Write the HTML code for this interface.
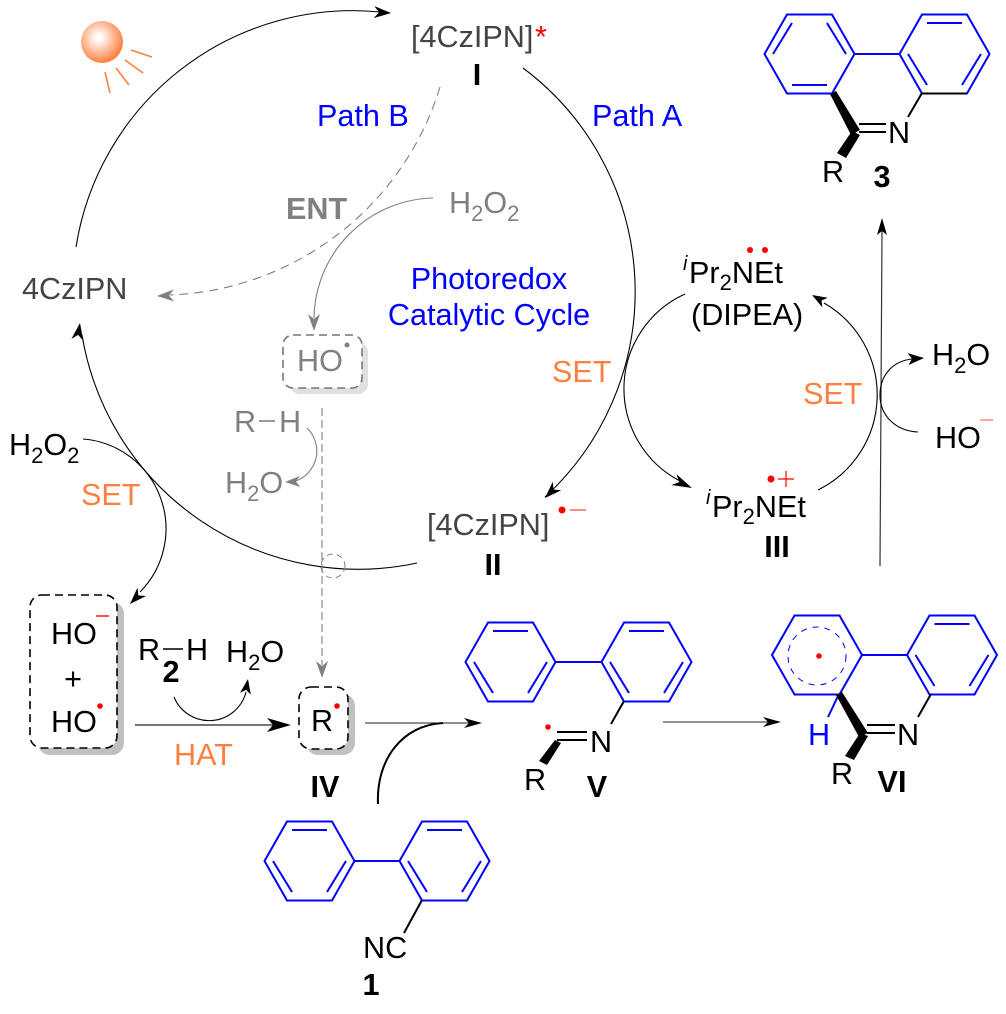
<!DOCTYPE html>
<html><head><meta charset="utf-8"><style>
html,body{margin:0;padding:0;background:#fff}
svg{display:block}
text{font-family:"Liberation Sans",sans-serif;font-size:30.6px}
.b{font-weight:bold}
.o{fill:#ff7f3f}.u{fill:#0000ff}.g{fill:#808080}.d{fill:#444}
.s{font-size:22px}
.ln{fill:none;stroke:#000;stroke-width:1.1}
.gl{fill:none;stroke:#808080;stroke-width:1.1}
.ring{fill:none;stroke:#0000ff;stroke-width:2}
.bk{fill:none;stroke:#000;stroke-width:2}
</style></head><body>
<svg width="1006" height="1014" viewBox="0 0 1006 1014" xmlns="http://www.w3.org/2000/svg">
<defs>
<radialGradient id="sun" cx="0.42" cy="0.4" r="0.6"><stop offset="0.1" stop-color="#fff"/><stop offset="1" stop-color="#ff7f3f"/></radialGradient>
</defs>
<rect width="1006" height="1014" fill="#fff"/>

<!-- sun -->
<circle cx="102" cy="42" r="21" fill="url(#sun)"/>
<path d="M131 50L152 57M125 60L143 73M116 68L129 85M105 72L110 93" stroke="#ff7f3f" stroke-width="1.6" fill="none"/>

<!-- main cycle -->
<path class="ln" d="M76 247A280 280 0 0 1 380 12"/>
<polygon points="0,0 -17,-6 -12,0 -17,6" transform="translate(391,13) rotate(3)"/>
<path class="ln" d="M523 68A279 279 0 0 1 545 497"/>
<polygon points="0,0 -17,-6 -12,0 -17,6" transform="translate(545,498) rotate(135)"/>
<path class="ln" d="M417 563A280 280 0 0 1 82 335"/>
<polygon points="0,0 -17,-6 -12,0 -17,6" transform="translate(80,323) rotate(-81)"/>

<!-- dashed ENT -->
<path class="gl" stroke-dasharray="9 6" d="M440 87A294 294 0 0 1 170 295"/>
<polygon points="0,0 -17,-6 -12,0 -17,6" fill="#808080" transform="translate(157,296) rotate(178)"/>
<path class="gl" d="M433 198A122 122 0 0 0 314 318"/>
<polygon points="0,0 -17,-6 -12,0 -17,6" fill="#808080" transform="translate(314,331) rotate(90)"/>

<!-- HO radical box -->
<rect x="290" y="342" width="78" height="52" rx="10" fill="#e0e0e0"/>
<rect x="283" y="335" width="79" height="53" rx="10" fill="#fff" stroke="#777" stroke-width="1.6" stroke-dasharray="8 5"/>
<text x="297" y="371" class="g">HO</text>
<circle cx="347" cy="345" r="2.5" fill="#808080"/>

<!-- R-H gray -->
<text x="234" y="432" class="g">R</text>
<path d="M259 421H275" stroke="#808080" stroke-width="1.6"/>
<text x="279" y="432" class="g">H</text>
<text x="225" y="493" class="g">H<tspan dy="8" class="s">2</tspan><tspan dy="-8">O</tspan></text>
<path class="gl" d="M307 428A32 32 0 0 1 296 481"/>
<polygon points="0,0 -15,-5.5 -11,0 -15,5.5" fill="#808080" transform="translate(285,482) rotate(178)"/>

<!-- dashed vertical -->
<path class="gl" stroke-dasharray="8 4" d="M322 408V665"/>
<polygon points="0,0 -17,-6 -12,0 -17,6" fill="#808080" transform="translate(322,678) rotate(90)"/>
<circle cx="333" cy="566" r="12" fill="none" stroke="#808080" stroke-width="1" stroke-dasharray="6 4"/>

<!-- H2O2 SET to box -->
<text x="9" y="455">H<tspan dy="8" class="s">2</tspan><tspan dy="-8">O</tspan><tspan dy="8" class="s">2</tspan></text>
<path class="ln" d="M83 439A90 90 0 0 1 140 592"/>
<polygon points="0,0 -17,-6 -12,0 -17,6" transform="translate(130,604) rotate(134)"/>

<!-- HO- + HO box -->
<rect x="38" y="602" width="86" height="153" rx="12" fill="#c0c0c0"/>
<rect x="30" y="595" width="87" height="153" rx="12" fill="#fff" stroke="#000" stroke-width="1.6" stroke-dasharray="8 5"/>
<text x="51" y="644">HO</text>
<path d="M96 616H109" stroke="#ff0000" stroke-width="1.4"/>
<text x="73" y="689" text-anchor="middle">+</text>
<text x="51" y="732">HO</text>
<circle cx="100" cy="706" r="2.8" fill="#ff0000"/>

<!-- R-H 2 -->
<text x="138" y="660">R</text>
<path d="M163 649H183" stroke="#000" stroke-width="1.6"/>
<text x="186" y="660">H</text>
<text x="171" y="682" text-anchor="middle" class="b">2</text>
<text x="226" y="662">H<tspan dy="8" class="s">2</tspan><tspan dy="-8">O</tspan></text>
<path class="ln" d="M174 697A38 38 0 0 0 246 692"/>
<polygon points="0,0 -15,-5.5 -11,0 -15,5.5" transform="translate(248,679) rotate(-80)"/>
<path d="M135 725H280" stroke="#222" stroke-width="1.2"/>
<polygon points="0,0 -24,-7 -18,0 -24,7" transform="translate(291,725)"/>
<text x="174" y="765" class="o">HAT</text>

<!-- R box -->
<rect x="306" y="694" width="49" height="61" rx="12" fill="#c0c0c0"/>
<rect x="299" y="687" width="49" height="62" rx="12" fill="#fff" stroke="#000" stroke-width="1.6" stroke-dasharray="8 5"/>
<text x="311" y="731">R</text>
<circle cx="337" cy="706" r="2.8" fill="#ff0000"/>
<text x="325" y="797" text-anchor="middle" class="b">IV</text>

<!-- arrow to V -->
<path d="M365 723H470" stroke="#222" stroke-width="1.1"/>
<polygon points="0,0 -18,-5 -13,0 -18,5" transform="translate(482,723)"/>
<path d="M378 804C376 760 402 725 443 723" fill="none" stroke="#000" stroke-width="2"/>
<path d="M663 722H770" stroke="#222" stroke-width="1.1"/>
<polygon points="0,0 -18,-5 -13,0 -18,5" transform="translate(781,722)"/>

<!-- compound 1 -->
<g transform="translate(309.5,861)"><path class="ring" d="M-22.5,-39.5H22.5L45,0L22.5,39.5H-22.5L-45,0Z"/><path class="ring" d="M-17.5,-31H17.5M-36.5,0L-17.5,31M36.5,0L17.5,31"/></g>
<g transform="translate(444.5,861)"><path class="ring" d="M-22.5,-39.5H22.5L45,0L22.5,39.5H-22.5L-45,0Z"/><path class="ring" d="M-17.5,-31H17.5M-36.5,0L-17.5,31M36.5,0L17.5,31"/></g>
<path class="ring" d="M354.5 861H399.5"/>
<path class="bk" d="M422 900L404 933"/>
<text x="363" y="958">NC</text>
<text x="371" y="995" text-anchor="middle" class="b">1</text>

<!-- compound V -->
<g transform="translate(510.5,662)"><path class="ring" d="M-22.5,-39.5H22.5L45,0L22.5,39.5H-22.5L-45,0Z"/><path class="ring" d="M-17.5,-31H17.5M-36.5,0L-17.5,31M36.5,0L17.5,31"/></g>
<g transform="translate(646.5,662)"><path class="ring" d="M-22.5,-39.5H22.5L45,0L22.5,39.5H-22.5L-45,0Z"/><path class="ring" d="M-17.5,-31H17.5M-36.5,0L-17.5,31M36.5,0L17.5,31"/></g>
<path class="ring" d="M555.5 662H601.5"/>
<path class="bk" d="M624 701L611 724"/>
<path class="bk" d="M557 732H587M557 740H587"/>
<polygon points="555,740 561,743 547,765 539,761" fill="#000"/>
<circle cx="548" cy="727" r="2.8" fill="#ff0000"/>
<text x="590" y="752">N</text>
<text x="524" y="790">R</text>
<text x="597" y="797" text-anchor="middle" class="b">V</text>

<!-- compound VI -->
<g transform="translate(817,655)"><path class="ring" d="M-22.5,-39.5H22.5L45,0L22.5,39.5H-22.5L-45,0Z"/></g>
<g transform="translate(952,655)"><path class="ring" d="M-22.5,-39.5H22.5L45,0L22.5,39.5H-22.5L-45,0Z"/><path class="ring" d="M-17.5,-31H17.5M-36.5,0L-17.5,31M36.5,0L17.5,31"/></g>
<path class="ring" d="M862 655H907"/>
<circle cx="817" cy="656" r="29" fill="none" stroke="#0000ff" stroke-width="1" stroke-dasharray="6 6"/>
<circle cx="819" cy="656" r="2.8" fill="#ff0000"/>
<path class="ring" d="M839 694L828 717"/>
<polygon points="836,695 842,692 868,733 859,737" fill="#000"/>
<polygon points="860,733 868,736 854,760 845,756" fill="#000"/>
<path class="bk" d="M867 725H895M867 733H895"/>
<path class="bk" d="M931 694L918 717"/>
<text x="897" y="745">N</text>
<text x="831" y="784">R</text>
<text x="808" y="745" class="u">H</text>
<text x="892" y="792" text-anchor="middle" class="b">VI</text>

<!-- compound 3 -->
<g transform="translate(809.5,54)"><path class="ring" d="M-22.5,-39.5H22.5L45,0L22.5,39.5H-22.5L-45,0Z"/><path class="ring" d="M-36.5,0L-17.5,-31M36.5,0L17.5,-31M-17.5,31H17.5"/></g>
<g transform="translate(944.5,54)"><path class="ring" d="M-22.5,-39.5H22.5L45,0L22.5,39.5H-22.5L-45,0Z"/><path class="ring" d="M-17.5,-31H17.5M-36.5,0L-17.5,31M36.5,0L17.5,31"/></g>
<path class="ring" d="M854.5 54H900"/>
<path class="bk" d="M922 93.5H967M922 93L908 117"/>
<polygon points="830,94 836,91 860,130 851,135" fill="#000"/>
<polygon points="852,131 860,135 846,158 837,153" fill="#000"/>
<path class="bk" d="M859 124H886M859 132H886"/>
<text x="888" y="143">N</text>
<text x="822" y="182">R</text>
<text x="882" y="187" text-anchor="middle" class="b">3</text>

<!-- labels top -->
<text x="411" y="47" class="d">[4CzIPN]</text>
<text x="535" y="47" fill="#ff0000">*</text>
<text x="477" y="85" text-anchor="middle" class="b">I</text>
<text x="317" y="126" class="u">Path B</text>
<text x="592" y="126" class="u">Path A</text>
<text x="286" y="219" class="g b">ENT</text>
<text x="449" y="213" class="g">H<tspan dy="8" class="s">2</tspan><tspan dy="-8">O</tspan><tspan dy="8" class="s">2</tspan></text>
<text x="22" y="299" class="d">4CzIPN</text>
<text x="489" y="289" text-anchor="middle" class="u">Photoredox</text>
<text x="489" y="325" text-anchor="middle" class="u">Catalytic Cycle</text>
<text x="81" y="505" class="o">SET</text>
<text x="552" y="382" class="o">SET</text>
<text x="803" y="404" class="o">SET</text>

<text x="427" y="535" class="d">[4CzIPN]</text>
<circle cx="562" cy="510" r="3.5" fill="#ff0000"/>
<path d="M570 510H586" stroke="#ff8080" stroke-width="1.8"/>
<text x="493" y="575" text-anchor="middle" class="b">II</text>

<!-- DIPEA cycle -->
<path class="ln" d="M685 294A104 104 0 0 0 680 481"/>
<polygon points="0,0 -20,-6 -14,0 -20,6" transform="translate(692,488) rotate(25)"/>
<path class="ln" d="M818 490A106 106 0 0 0 824 303"/>
<polygon points="0,0 -15,-5.5 -11,0 -15,5.5" transform="translate(812,295) rotate(-150)"/>
<text x="683" y="270" style="font-size:20px;font-style:italic">i</text>
<text x="689" y="283">Pr<tspan dy="7" class="s">2</tspan><tspan dy="-7">NEt</tspan></text>
<circle cx="750" cy="250" r="3" fill="#ff0000"/><circle cx="765" cy="250" r="3" fill="#ff0000"/>
<text x="691" y="325">(DIPEA)</text>
<text x="706" y="504" style="font-size:20px;font-style:italic">i</text>
<text x="712" y="517">Pr<tspan dy="7" class="s">2</tspan><tspan dy="-7">NEt</tspan></text>
<circle cx="771" cy="479" r="3.5" fill="#ff0000"/>
<path d="M778 479H794M786 471V487" stroke="#ff0000" stroke-width="1.2"/>
<text x="777" y="557" text-anchor="middle" class="b">III</text>

<!-- vertical arrow to 3 -->
<path d="M880 566L882 230" stroke="#333" stroke-width="1.2"/>
<polygon points="0,0 -17,-5 -13,0 -17,5" transform="translate(882,218) rotate(-90)"/>
<path class="ln" d="M918 432C896 431 880 416 880 395C880 375 893 361 912 359"/>
<polygon points="0,0 -16,-6 -12,0 -16,6" transform="translate(924,358) rotate(-4)"/>
<text x="932" y="365">H<tspan dy="8" class="s">2</tspan><tspan dy="-8">O</tspan></text>
<text x="935" y="448">HO</text>
<path d="M980 420H993" stroke="#ff8080" stroke-width="1.4"/>
</svg>
</body></html>
